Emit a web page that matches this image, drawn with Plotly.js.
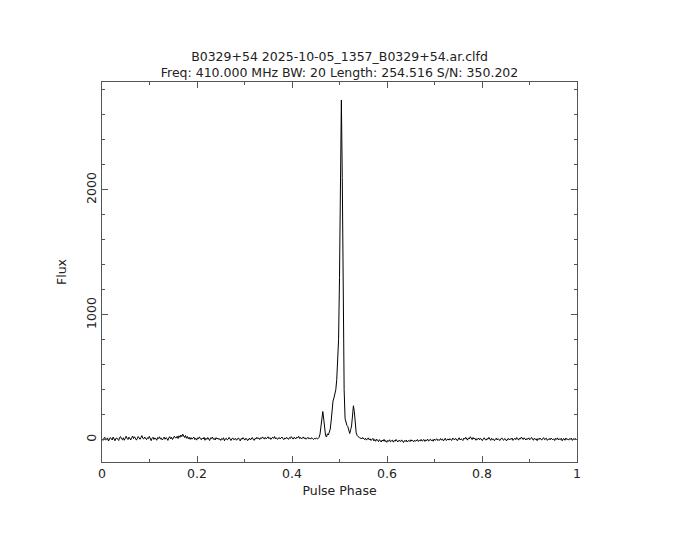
<!DOCTYPE html>
<html>
<head>
<meta charset="utf-8">
<script src="https://cdn.plot.ly/plotly-3.0.1.min.js"></script>
<style>html,body{margin:0;padding:0;background:#fff;}#chart{width:680px;height:544px;}</style>
</head>
<body>
<div id="chart"></div>
<script>
var titleLine1 = "B0329+54 2025-10-05_1357_B0329+54.ar.clfd";
var titleLine2 = "Freq: 410.000 MHz BW: 20 Length: 254.516 S/N: 350.202";
var xLabel = "Pulse Phase";
var yLabel = "Flux";
var nbin = 512;
var xTickVals = [0, 0.2, 0.4, 0.6, 0.8, 1];
var xTickText = ["0", "0.2", "0.4", "0.6", "0.8", "1"];
var yTickVals = [0, 1000, 2000];
var yTickText = ["0", "1000", "2000"];

var flux = [
  8, -5, 12, 20, -3, 6, 15, -10, 4, 18, 9, -2, 22, 5, -8, 11,
  14, 3, -6, 19, 25, 7, 0, 16, -4, 10, 28, 12, 2, 21, 6, -1,
  17, 30, 9, 24, 13, -3, 8, 26, 15, 4, 19, 33, 11, 7, 22, 14,
  1, 16, 9, 27, 5, -7, 12, 20, 3, 15, 8, -4, 18, 10, 24, 6,
  13, -2, 9, 21, 4, 17, 11, -5, 14, 25, 7, 19, 2, 12, 28, 16,
  15, 28, 10, 32, 20, 38, 25, 45, 30, 18, 34, 12, 26, 8, 20, 3,
  17, 5, 13, 21, 2, 11, -3, 16, 8, 23, 10, 0, 14, 6, 19, -4,
  12, 3, 18, 7, -6, 15, 9, 22, 4, 11, -2, 17, 6, 13, 1, 8,
  -5, 10, 3, 16, -8, 7, 12, -1, 5, 19, 2, -6, 9, 14, 0, 6,
  11, -4, 8, 15, 3, -9, 10, 4, 17, 1, -3, 12, 7, -7, 5, 13,
  -2, 9, 18, 4, -5, 11, 6, 20, 8, 14, 2, 16, 10, 23, 12, 5,
  19, 7, 15, 24, 9, 17, 3, 13, 21, 11, 26, 8, 16, 4, 12, 18,
  6, 14, 22, 9, 1, 15, 7, 20, 11, 3, 17, 10, 25, 13, 5, 19,
  12, 8, 21, 15, 27, 10, 18, 6, 14, 23, 9, 16, 4, 11, 20, 7,
  13, 5, 17, 9, 2, 12, 6, 15, 8,
  10, 20, 45, 110, 190, 226, 165, 70, 32, 22, 48, 38, 60, 85, 150, 240,
  310, 335, 365, 400, 480, 600, 800, 1300, 2150, 2720, 2100, 1000, 400, 170, 135, 115,
  105, 70, 50, 80, 110, 190, 272, 225, 120, 55, 35, 25, 18,
  12,
  14, 6, 18, 9, 2, 12, -3, 7, 15, 0, 8, -6, 4, 11, -9, 2,
  -12, 5, -4, -15, 1, -8, -18, -2, -11, 3, -14, -7, -20, -5, -13, 0,
  -16, -9, -3, -19, -6, -12, 2, -10, -17, -4, -8, -14, -1, -11, -22, -7,
  -13, -2, -18, -9, -5, -15, 0, -10, -6, -16, -3, -12, -8, 1, -14, -4,
  -9, 3, -11, -6, 2, -13, -1, -7, 5, -10, -3, 4, -8, 0, -12, 6,
  -5, -1, 8, -7, 2, -4, 10, -2, 5, -9, 3, 12, -6, 1, 7, -3,
  9, 0, -5, 14, 4, -2, 11, 6, -8, 3, 16, -1, 8, 2, -6, 13,
  5, 20, 9, -3, 15, 7, 24, 10, 1, 18, 6, 12, -4, 9, 3, 14,
  0, 11, 5, -7, 8, 16, 2, -3, 10, 4, 19, 7, -5, 12, 1, 6,
  -8, 3, 13, -2, 9, 0, -6, 7, 15, 2, -4, 10, 5, -9, 4, 11,
  -1, 8, 3, 14, -5, 6, 12, 1, 18, 9, -3, 13, 5, 21, 8, 2,
  16, 7, -2, 11, 4, 15, 0, 9, 19, 6, -4, 12, 3, 8, -7, 10,
  2, 14, 5, -3, 9, 17, 1, 7, 12, -5, 4, 10, -1, 13, 6, 0,
  8, -6, 11, 3, 15, -2, 7, 1, 12, -8, 5, 9, -4, 14, 2, 6,
  -3, 10, 4, 13, -5, 8, 1, 11, 3
];

var phase = flux.map(function (v, i) { return i / nbin; });

var font = {family: "DejaVu Sans, Liberation Sans, sans-serif", size: 12.5, color: "#222"};
var axisCommon = {
  showline: true, linecolor: "#555", linewidth: 1, mirror: "allticks",
  ticks: "inside", tickcolor: "#555", ticklen: 6, tickwidth: 1,
  showgrid: false, zeroline: false, tickfont: font
};

var layout = {
  width: 680, height: 544,
  margin: {l: 102, r: 103, t: 82, b: 82},
  paper_bgcolor: "#fff", plot_bgcolor: "#fff",
  showlegend: false,
  font: font,
  title: {
    text: titleLine1 + "<br>" + titleLine2,
    font: {family: font.family, size: 12.5, color: "#222"},
    x: 0.5, xanchor: "center", xref: "paper",
    y: 1 - 61 / 544, yanchor: "middle", yref: "container"
  },
  xaxis: Object.assign({}, axisCommon, {
    range: [0, 1],
    tickmode: "array", tickvals: xTickVals, ticktext: xTickText,
    minor: {ticks: "inside", ticklen: 3, tickcolor: "#555", dtick: 0.1, tick0: 0, showgrid: false},
    title: {text: xLabel, font: font, standoff: 6}
  }),
  yaxis: Object.assign({}, axisCommon, {
    range: [-178, 2864],
    tickmode: "array", tickvals: yTickVals, ticktext: yTickText,
    tickangle: -90,
    minor: {ticks: "inside", ticklen: 3, tickcolor: "#555", dtick: 200, tick0: 0, showgrid: false},
    title: {text: yLabel, font: font, standoff: 14}
  })
};

var trace = {
  x: phase, y: flux, type: "scatter", mode: "lines",
  line: {color: "#000", width: 1}, hoverinfo: "skip"
};

Plotly.newPlot("chart", [trace], layout, {displayModeBar: false, staticPlot: true});
</script>
</body>
</html>
